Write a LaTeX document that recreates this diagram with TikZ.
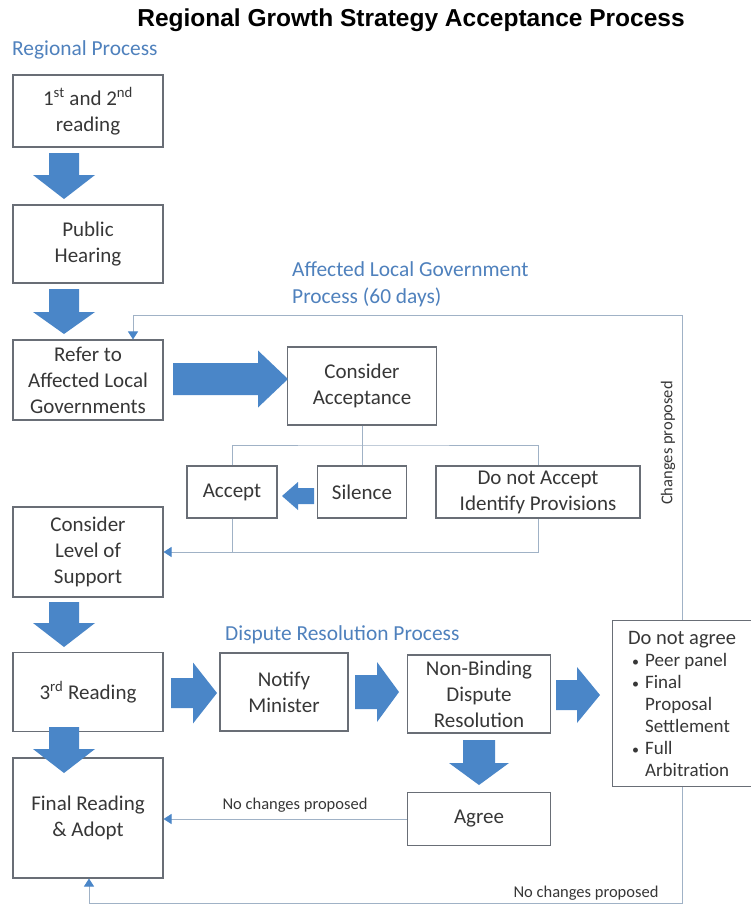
\documentclass[tikz,border=0pt]{standalone}
\usepackage{fontspec}
\setmainfont{Carlito}
\newfontfamily\titlefont{Liberation Sans}
\usetikzlibrary{arrows.meta,calc}
\definecolor{lblblue}{RGB}{79,129,189}
\definecolor{arrblue}{RGB}{74,134,200}
\definecolor{linegray}{RGB}{160,178,198}
\definecolor{boxgray}{RGB}{105,110,118}
\definecolor{txtgray}{RGB}{55,55,55}
% block arrows: x centre, y top, shaft length, head length, shaft half width, head half width
\newcommand\barrowdown[6]{\fill[arrblue] (#1-#5,#2) -- (#1+#5,#2) -- (#1+#5,#2+#3) -- (#1+#6,#2+#3) -- (#1,#2+#3+#4) -- (#1-#6,#2+#3) -- (#1-#5,#2+#3) -- cycle;}
% x left, y centre, shaft length, head length, shaft half width, head half width
\newcommand\barrowright[6]{\fill[arrblue] (#1,#2-#5) -- (#1+#3,#2-#5) -- (#1+#3,#2-#6) -- (#1+#3+#4,#2) -- (#1+#3,#2+#6) -- (#1+#3,#2+#5) -- (#1,#2+#5) -- cycle;}
\newcommand\bul{\makebox[17pt][l]{\hspace{4pt}{\fontsize{14}{14}\selectfont\textbullet}}}
\newcommand\ind{\hspace*{17pt}}
\tikzset{
  box/.style={draw=boxgray, line width=1.1pt, fill=white, text=txtgray, align=center,
    font=\fontsize{21}{26}\selectfont, inner sep=0pt},
  lbl/.style={text=lblblue, font=\fontsize{21.4}{27}\selectfont, inner sep=0pt, align=left},
  small/.style={text=txtgray, font=\fontsize{16.5}{20}\selectfont, inner sep=0pt},
  conn/.style={draw=linegray, line width=1pt},
  arr/.style={conn, -{Triangle[width=10pt,length=8pt,color=arrblue]}}
}
\begin{document}
\begin{tikzpicture}[x=1pt,y=-1pt]
\fill[white] (0,0) rectangle (751,905);
\useasboundingbox (0,0) rectangle (751,905);

\node[font=\titlefont\bfseries\fontsize{24.5}{29}\selectfont, inner sep=0pt] (title) at (411,20) {Regional Growth Strategy Acceptance Process};
\node[lbl, anchor=west] (lReg) at (12,50) {Regional Process};
\node[lbl, anchor=west] (lALG) at (292,284) {Affected Local Government\\Process (60 days)};
\node[lbl, anchor=west] (lDRP) at (225,635) {Dispute Resolution Process};

% boxes
\node[box, minimum width=150, minimum height=72] (b1) at (88,111) {1\textsuperscript{st} and 2\textsuperscript{nd}\\reading};
\node[box, minimum width=150, minimum height=78] (b2) at (88,244) {Public\\Hearing};
\node[box, minimum width=150, minimum height=80] (b3) at (88,380) {Refer to\\Affected Local\\Governments};
\node[box, minimum width=149, minimum height=78] (b4) at (362,386) {Consider\\Acceptance};
\node[box, minimum width=90, minimum height=52] (b5) at (232,492) {Accept};
\node[box, minimum width=89, minimum height=52] (b6) at (362,492) {Silence};
\node[box, minimum width=204, minimum height=52] (b7) at (538,492) {Do not Accept\\Identify Provisions};
\node[box, minimum width=150, minimum height=90] (b8) at (88,552) {Consider\\Level of\\Support};
\node[box, minimum width=150, minimum height=79] (b9) at (88,692) {3\textsuperscript{rd} Reading};
\node[box, minimum width=128, minimum height=78] (b10) at (284,692) {Notify\\Minister};
\node[box, minimum width=143, minimum height=78] (b11) at (479,694) {Non-Binding\\Dispute\\Resolution};
\node[box, anchor=north west, minimum width=139, minimum height=166, align=left,
  font=\fontsize{19}{22}\selectfont] (b12) at (612,620)
  {{\fontsize{20.5}{22}\selectfont Do not agree}\\ \bul Peer panel\\ \bul Final\\ \ind Proposal\\ \ind Settlement\\ \bul Full\\ \ind Arbitration};
\node[box, minimum width=143, minimum height=53] (b13) at (479,819) {Agree};
\node[box, minimum width=150, minimum height=120] (b14) at (88,818) {Final Reading\\\& Adopt};

% thin connectors
\coordinate (j1) at (362,445);
\draw[conn] (b4.south) -- (j1);
\draw[conn] (b5.north) |- (j1) -| (b7.north);
\draw[conn] (b6.north) -- (j1);
\draw[arr] (b7.south) |- (b8.east);
\draw[conn] (b5.south) -- (b5.south |- b8.east);
\coordinate (fbA) at (133,315);
\draw[arr] (b12.north) |- (fbA) -- (fbA |- b3.north);
\coordinate (fbB) at (89,903);
\draw[arr] (b12.south) |- (fbB) -- (fbB |- b14.south);
\draw[arr] (b13.west) -- (b14.east |- b13.west);

% connector labels
\node[small, rotate=90] (lCP) at (668,443) {Changes proposed};
\node[small] (lNC1) at (295,805) {No changes proposed};
\node[small] (lNC2) at (586,893) {No changes proposed};

% block arrows
\barrowdown{64}{153}{22}{24}{15}{31}
\barrowdown{64}{289}{23}{22}{15}{31}
\barrowdown{64}{602}{21}{24}{15}{31}
\barrowdown{64}{727}{22}{24}{15}{31}
\barrowdown{479}{740}{23}{22}{16}{30}
\barrowright{173}{379}{85}{30}{16}{28.5}
\barrowright{171}{693}{22}{24}{15}{30.5}
\barrowright{355}{692}{22}{22}{17}{30}
\barrowright{556}{695}{21}{23}{15}{28}
\fill[arrblue] (314,488) -- (298,488) -- (298,482) -- (282,496) -- (298,510) -- (298,504) -- (314,504) -- cycle;
\end{tikzpicture}
\end{document}
